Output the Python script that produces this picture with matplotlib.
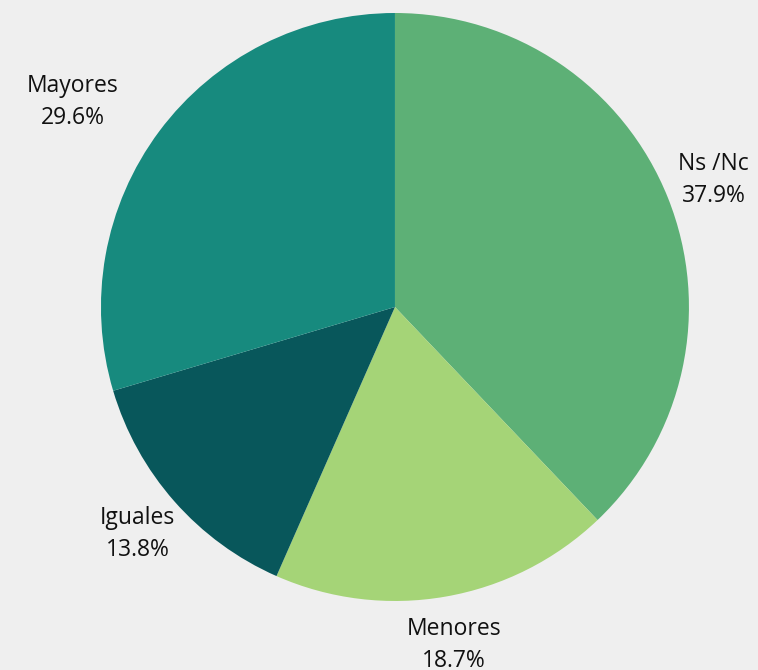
import matplotlib.pyplot as plt
import numpy as np

labels = ["Ns /Nc", "Menores", "Iguales", "Mayores"]
values = [37.9, 18.7, 13.8, 29.6]
colors = ["#5db076", "#a5d477", "#08575b", "#178a7e"]

# horizontal nudge for labels (in pie radius units)
label_dx = [0.0, 0.0, 0.0, -0.16]

plt.rcParams["font.family"] = ["Open Sans", "DejaVu Sans"]

fig = plt.figure(figsize=(7.58, 6.70), dpi=100, facecolor="#efefef")
ax = fig.add_axes([0.1332, 0.103, 0.7757, 0.8776])
ax.set_facecolor("#efefef")

wedges, _ = ax.pie(
    values,
    colors=colors,
    startangle=90,
    counterclock=False,
    radius=1.0,
    wedgeprops=dict(linewidth=0),
)

total = sum(values)
cum = 0.0
for lab, val, dx in zip(labels, values, label_dx):
    mid = 90 - (cum + val / 2) / total * 360
    cum += val
    r = 1.167
    x = r * np.cos(np.radians(mid)) + dx
    y = r * np.sin(np.radians(mid))
    ax.text(
        x, y, f"{lab}\n{val:.1f}%",
        ha="center", va="center",
        fontsize=16.5, color="#111111",
        linespacing=1.45, clip_on=False,
    )

ax.set_xlim(-1, 1)
ax.set_ylim(-1, 1)
ax.set_aspect("equal")
ax.axis("off")

fig.savefig("out.png", dpi=100, facecolor=fig.get_facecolor())
